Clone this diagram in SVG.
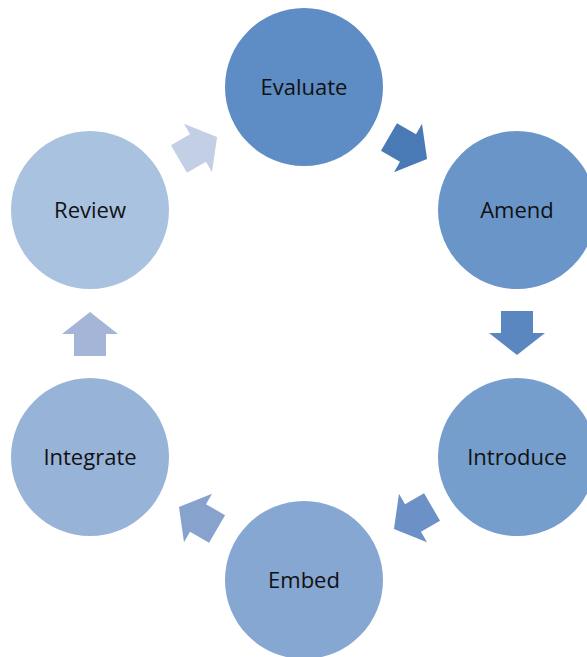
<svg xmlns="http://www.w3.org/2000/svg" width="587" height="657" viewBox="0 0 587 657">
  <defs>
    <style>
      .lbl { font-family: "Open Sans", "Liberation Sans", sans-serif; font-size: 22px; fill: #111; text-anchor: middle; }
    </style>
    <polygon id="arr" points="-22,-16 0,-16 0,-28 22,0 0,28 0,16 -22,16"/>
  </defs>
  <rect width="587" height="657" fill="#ffffff"/>
  <g id="connectors">
    <use href="#arr" fill="#4a7ab6" transform="translate(408,148) rotate(30)"/>
    <use href="#arr" fill="#5a87c0" transform="translate(517,333) rotate(90)"/>
    <use href="#arr" fill="#6b91c6" transform="translate(413,518) rotate(150)"/>
    <use href="#arr" fill="#87a2cc" transform="translate(198,518) rotate(210)"/>
    <use href="#arr" fill="#a4b5d7" transform="translate(90,334) rotate(270)"/>
    <use href="#arr" fill="#c3cfe4" transform="translate(198,148) rotate(330)"/>
  </g>
  <g id="evaluate">
    <circle cx="304" cy="87" r="79" fill="#5e8cc4"/>
    <text class="lbl" x="304" y="95">Evaluate</text>
  </g>
  <g id="amend">
    <circle cx="517" cy="210" r="79" fill="#6a95c9"/>
    <text class="lbl" x="517" y="218">Amend</text>
  </g>
  <g id="introduce">
    <circle cx="517" cy="457" r="79" fill="#759ecd"/>
    <text class="lbl" x="517" y="465">Introduce</text>
  </g>
  <g id="embed">
    <circle cx="304" cy="580" r="79" fill="#85a7d1"/>
    <text class="lbl" x="304" y="588">Embed</text>
  </g>
  <g id="integrate">
    <circle cx="90" cy="457" r="79" fill="#97b3d8"/>
    <text class="lbl" x="90" y="465">Integrate</text>
  </g>
  <g id="review">
    <circle cx="90" cy="210" r="79" fill="#a9c2e0"/>
    <text class="lbl" x="90" y="218">Review</text>
  </g>
</svg>
